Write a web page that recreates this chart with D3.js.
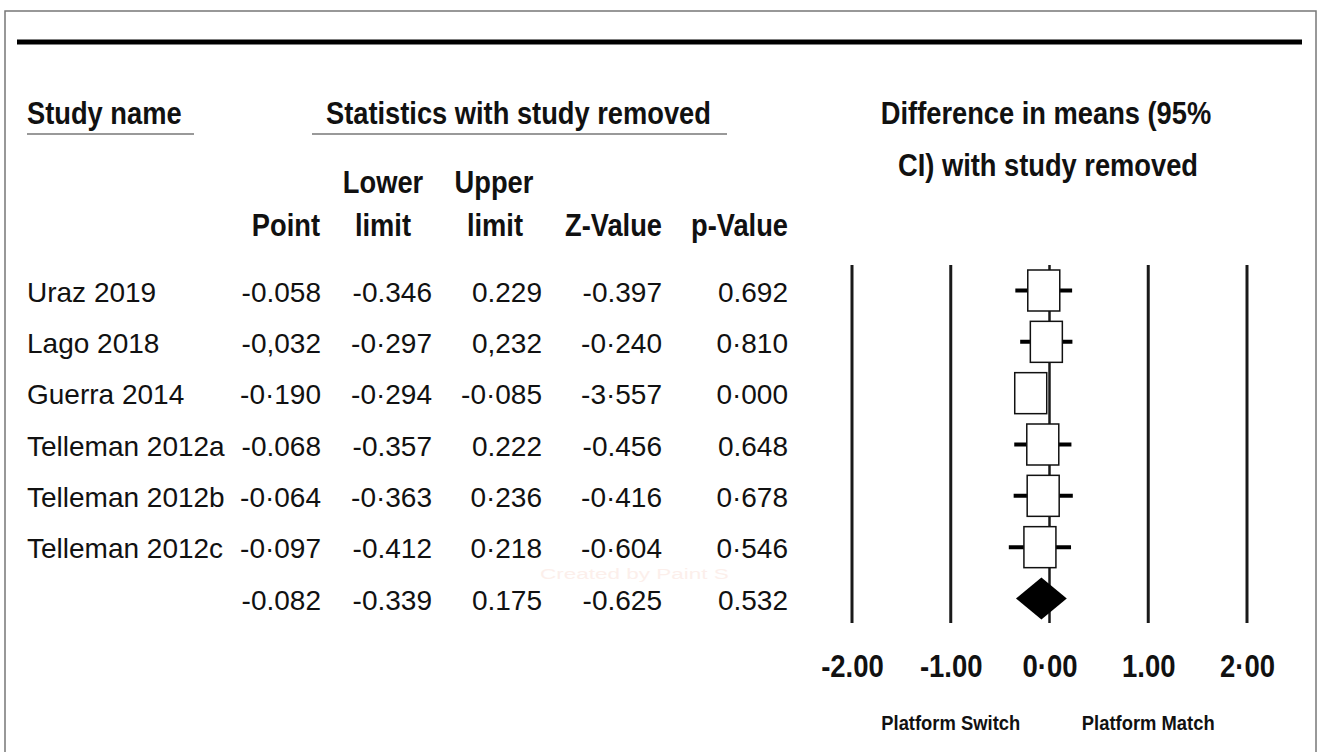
<!DOCTYPE html>
<html>
<head>
<meta charset="utf-8">
<style>
  body { margin: 0; background: #fff; }
  svg text { font-family: "Liberation Sans", Arial, sans-serif; fill: #111; }
</style>
</head>
<body>
<svg id="forest" width="1320" height="752" viewBox="0 0 1320 752" xmlns="http://www.w3.org/2000/svg"></svg>
<script src="https://d3js.org/d3.v7.min.js"></script>
<script>

// table rows (last row = combined, no name)
const studyNames = ["Uraz 2019", "Lago 2018", "Guerra 2014", "Telleman 2012a", "Telleman 2012b", "Telleman 2012c", ""];
const pointLabels = ["-0.058", "-0,032", "-0·190", "-0.068", "-0·064", "-0·097", "-0.082"];
const lowerLabels = ["-0.346", "-0·297", "-0·294", "-0.357", "-0·363", "-0.412", "-0.339"];
const upperLabels = ["0.229", "0,232", "-0·085", "0.222", "0·236", "0·218", "0.175"];
const zLabels = ["-0.397", "-0·240", "-3·557", "-0.456", "-0·416", "-0·604", "-0.625"];
const pLabels = ["0.692", "0·810", "0·000", "0.648", "0·678", "0·546", "0.532"];

const tickValues = [-2, -1, 0, 1, 2];
const tickLabels = ["-2.00", "-1.00", "0·00", "1.00", "2·00"];

const num = s => +s.replace(/[·,]/g, ".");
const points = pointLabels.map(num);
const lowers = lowerLabels.map(num);
const uppers = upperLabels.map(num);
const summaryIndex = studyNames.length - 1;

const svg = d3.select("#forest");

// scales
const x = d3.scaleLinear().domain([-2, 2]).range([852, 1247]);
const rowY = d3.scalePoint().domain(d3.range(studyNames.length)).range([290.5, 598.5]);

// frame + heavy rule
svg.append("rect")
  .attr("x", 5).attr("y", 11)
  .attr("width", 1311).attr("height", 760)
  .attr("fill", "none")
  .attr("stroke", "#777")
  .attr("stroke-width", 1.5);

svg.append("line")
  .attr("x1", 17).attr("x2", 1302)
  .attr("y1", 42).attr("y2", 42)
  .attr("stroke", "#000")
  .attr("stroke-width", 5);

// faint watermark (sits in the gap between the last two rows)
svg.append("text")
  .attr("transform", "translate(540,579) scale(1.5,1)")
  .attr("font-size", "15px")
  .style("fill", "#fcefeb")
  .text("Created by Paint S");

// bold condensed header text
function bold(xp, yp, str, anchor, size, sx) {
  svg.append("text")
    .attr("transform", `translate(${xp},${yp}) scale(${sx},1)`)
    .attr("text-anchor", anchor)
    .attr("font-size", size + "px")
    .attr("font-weight", "bold")
    .text(str);
}

bold(27, 124, "Study name", "start", 31, 0.88);
bold(326, 124, "Statistics with study removed", "start", 31, 0.88);
bold(1046, 124, "Difference in means (95%", "middle", 31, 0.88);
bold(1048, 176, "CI) with study removed", "middle", 31, 0.88);

bold(383, 193, "Lower", "middle", 31, 0.88);
bold(494, 193, "Upper", "middle", 31, 0.88);
bold(320, 236, "Point", "end", 31, 0.88);
bold(383, 236, "limit", "middle", 31, 0.88);
bold(495, 236, "limit", "middle", 31, 0.88);
bold(662, 236, "Z-Value", "end", 31, 0.88);
bold(788, 236, "p-Value", "end", 31, 0.88);

// header underlines
[[27, 194], [312, 727]].forEach(([a, b]) => {
  svg.append("line")
    .attr("x1", a).attr("x2", b)
    .attr("y1", 134).attr("y2", 134)
    .attr("stroke", "#999")
    .attr("stroke-width", 2);
});

// table body
const columns = [
  { labels: pointLabels, x: 321 },
  { labels: lowerLabels, x: 432 },
  { labels: upperLabels, x: 542 },
  { labels: zLabels, x: 662 },
  { labels: pLabels, x: 788 }
];

studyNames.forEach((name, i) => {
  const base = rowY(i) + 11;
  svg.append("text")
    .attr("x", 27).attr("y", base)
    .attr("font-size", "28px")
    .text(name);
  columns.forEach(col => {
    svg.append("text")
      .attr("x", col.x).attr("y", base)
      .attr("text-anchor", "end")
      .attr("font-size", "28px")
      .text(col.labels[i]);
  });
});

// reference lines
tickValues.forEach(v => {
  svg.append("line")
    .attr("x1", x(v)).attr("x2", x(v))
    .attr("y1", 265).attr("y2", 623)
    .attr("stroke", "#1a1a1a")
    .attr("stroke-width", v === 0 ? 2.5 : 3);
});

// study CIs and boxes
const boxW = 32, boxH = 41;
d3.range(summaryIndex).forEach(i => {
  svg.append("line")
    .attr("x1", x(lowers[i])).attr("x2", x(uppers[i]))
    .attr("y1", rowY(i)).attr("y2", rowY(i))
    .attr("stroke", "#000")
    .attr("stroke-width", 4);
  svg.append("rect")
    .attr("x", x(points[i]) - boxW / 2)
    .attr("y", rowY(i) - boxH / 2)
    .attr("width", boxW)
    .attr("height", boxH)
    .attr("fill", "#fff")
    .attr("stroke", "#111")
    .attr("stroke-width", 1.5);
});

// combined diamond
const sy = rowY(summaryIndex);
svg.append("path")
  .attr("d", d3.line()([
    [x(lowers[summaryIndex]), sy],
    [x(points[summaryIndex]), sy - 21],
    [x(uppers[summaryIndex]), sy],
    [x(points[summaryIndex]), sy + 21]
  ]) + "Z")
  .attr("fill", "#000");

// axis labels
const axis = svg.append("g")
  .attr("transform", "translate(0,654)")
  .call(d3.axisBottom(x)
    .tickValues(tickValues)
    .tickFormat((d, i) => tickLabels[i])
    .tickSize(0)
    .tickPadding(0));
axis.select(".domain").remove();
axis.selectAll("text")
  .attr("font-size", "32px")
  .attr("font-weight", "bold")
  .attr("font-family", "Liberation Sans, Arial, sans-serif")
  .attr("fill", "#111")
  .attr("transform", "scale(0.86,1)");

svg.append("text")
  .attr("transform", `translate(${x(-1)},730) scale(0.92,1)`)
  .attr("text-anchor", "middle")
  .attr("font-size", "20px")
  .attr("font-weight", "bold")
  .text("Platform Switch");
svg.append("text")
  .attr("transform", `translate(${x(1)},730) scale(0.92,1)`)
  .attr("text-anchor", "middle")
  .attr("font-size", "20px")
  .attr("font-weight", "bold")
  .text("Platform Match");
</script>
</body>
</html>
